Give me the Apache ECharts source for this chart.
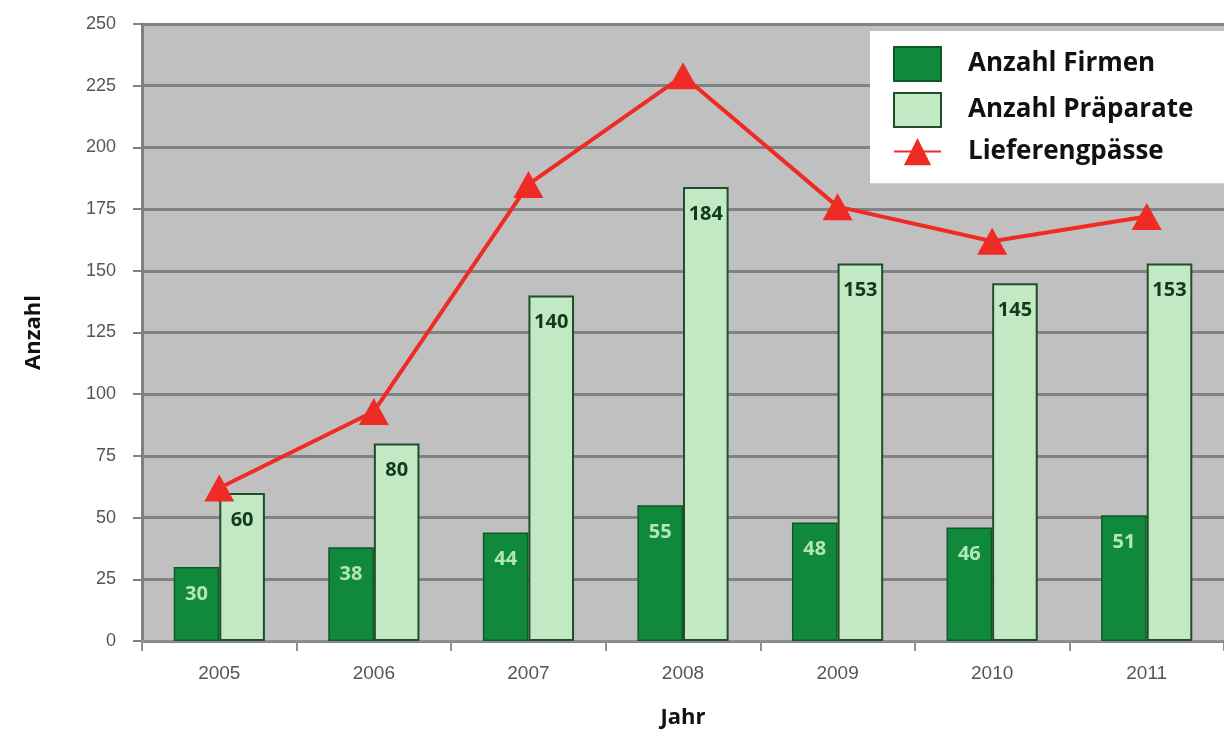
<!DOCTYPE html>
<html><head><meta charset="utf-8">
<script src="https://cdn.jsdelivr.net/npm/echarts@6/dist/echarts.min.js"></script>
<style>html,body{margin:0;padding:0;background:#fff}#c{width:1224px;height:741px}</style>
</head><body><div id="c"></div>
<script>
const years = ['2005','2006','2007','2008','2009','2010','2011'];
const firmen = [30, 38, 44, 55, 48, 46, 51];
const praeparate = [60, 80, 140, 184, 153, 145, 153];
const lieferengpaesse = [62, 93, 185, 229, 176, 162, 172];
const yTicks = {min: 0, max: 250, interval: 25};

const chart = echarts.init(document.getElementById('c'));
chart.setOption({
  animation: false,
  grid: {left: 142, right: -12, top: 24, bottom: 100, show: true, backgroundColor: '#c0c0c0', borderWidth: 0},
  legend: {
    orient: 'vertical', left: 870, top: 31,
    backgroundColor: '#fff', padding: [15, 60, 18, 23],
    itemWidth: 47, itemHeight: 34, itemGap: 10,
    textStyle: {fontFamily: 'Open Sans', fontWeight: 700, fontSize: 26, color: '#111', padding: [14, 0, 0, 22]},
    data: [
      {name: 'Anzahl Firmen', icon: 'rect'},
      {name: 'Anzahl Präparate', icon: 'rect'},
      {name: 'Lieferengpässe'}
    ]
  },
  xAxis: {
    type: 'category', data: years,
    name: 'Jahr', nameLocation: 'middle', nameGap: 66,
    nameTextStyle: {fontFamily: 'Open Sans', fontWeight: 700, fontSize: 22, color: '#111'},
    axisLine: {lineStyle: {color: '#909090', width: 2}},
    axisTick: {show: true, length: 10, lineStyle: {color: '#909090', width: 2}},
    axisLabel: {fontFamily: 'Liberation Sans', fontSize: 19, color: '#555', margin: 23}
  },
  yAxis: {
    type: 'value', min: yTicks.min, max: yTicks.max, interval: yTicks.interval,
    name: 'Anzahl', nameLocation: 'middle', nameGap: 97,
    nameTextStyle: {fontFamily: 'Open Sans', fontWeight: 700, fontSize: 22, color: '#111'},
    axisLine: {show: true, lineStyle: {color: '#808080', width: 3}},
    axisTick: {show: true, length: 9, lineStyle: {color: '#808080', width: 2}},
    axisLabel: {fontFamily: 'Liberation Sans', fontSize: 18, color: '#555', margin: 26},
    splitLine: {lineStyle: {color: '#828282', width: 3}}
  },
  series: [
    {
      name: 'Anzahl Firmen', type: 'bar', data: firmen,
      barGap: '0%', barCategoryGap: '41%',
      itemStyle: {color: '#10893c', borderColor: '#0c5a28', borderWidth: 1.5},
      label: {show: true, position: 'insideTop', distance: 17, fontFamily: 'Open Sans', fontWeight: 700, fontSize: 20, color: '#b5e6b8'}
    },
    {
      name: 'Anzahl Präparate', type: 'bar', data: praeparate,
      itemStyle: {color: '#c2e8c4', borderColor: '#1f4f2a', borderWidth: 2},
      label: {show: true, position: 'insideTop', distance: 17, fontFamily: 'Open Sans', fontWeight: 700, fontSize: 20, color: '#0f3a1c'}
    },
    {
      name: 'Lieferengpässe', type: 'line', data: lieferengpaesse,
      symbol: 'triangle', symbolSize: [30, 27],
      lineStyle: {color: '#ef2b25', width: 4},
      itemStyle: {color: '#ef2b25'}
    }
  ]
});
</script></body></html>
